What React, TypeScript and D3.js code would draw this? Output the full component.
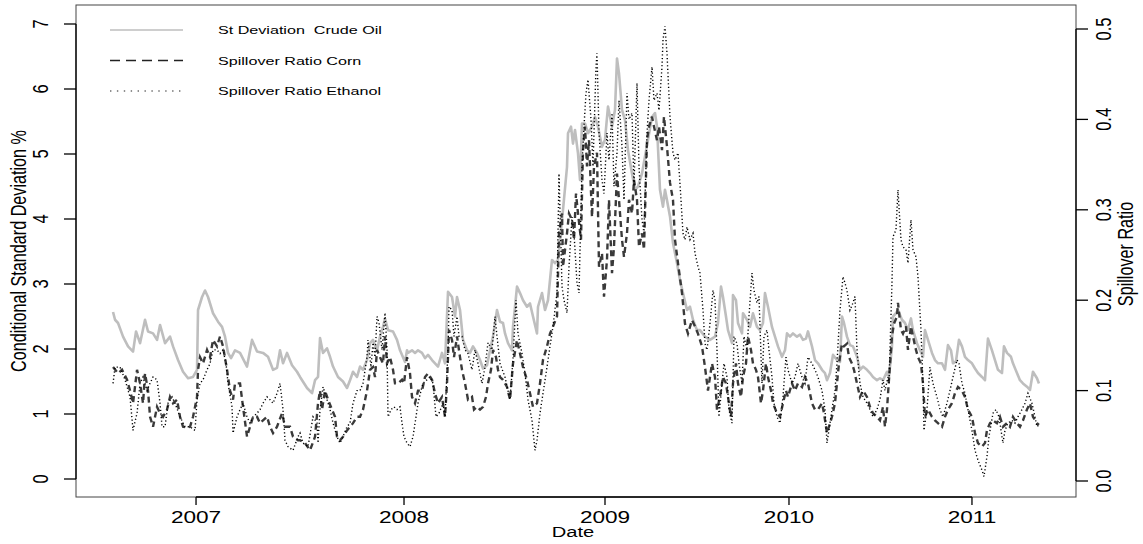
import React from "react";
import * as d3 from "d3";

// x is the observation index of the daily series (0 = first observation)
const N_OBS = 926;

const crudeOil: [number, number][] = [
  [0,2.57],[2,2.45],[5,2.40],[10,2.19],[15,2.04],[20,1.96],[23,2.27],[27,2.09],[32,2.45],[35,2.27],[40,2.24],[44,2.14],[47,2.37],[52,2.09],[57,2.19],[60,2.04],[65,1.83],[70,1.65],[75,1.55],[80,1.57],[84,1.68],[85,2.60],[89,2.80],[92,2.90],[95,2.80],[100,2.55],[105,2.42],[109,2.34],[112,2.19],[115,1.94],[118,1.86],[122,1.98],[127,1.94],[134,1.73],[139,2.14],[144,1.96],[150,1.94],[155,1.88],[160,1.68],[164,1.71],[167,1.98],[170,1.78],[174,1.94],[179,1.75],[184,1.65],[187,1.57],[194,1.40],[199,1.32],[202,1.52],[205,1.57],[207,2.17],[210,1.94],[214,2.01],[217,1.88],[220,1.73],[225,1.57],[230,1.50],[234,1.40],[237,1.52],[240,1.65],[244,1.57],[247,1.73],[250,1.68],[254,1.83],[257,2.09],[260,2.14],[264,1.98],[267,2.19],[270,2.34],[272,2.47],[275,2.29],[280,2.27],[284,2.14],[287,1.98],[292,1.80],[294,1.98],[295,1.94],[299,1.98],[302,1.94],[305,1.98],[309,1.94],[312,1.86],[315,1.91],[319,1.83],[322,1.78],[325,1.73],[329,1.94],[332,1.78],[335,2.88],[339,2.80],[342,2.50],[344,2.80],[347,2.60],[350,2.14],[354,1.98],[357,1.94],[360,2.04],[364,1.94],[367,1.83],[370,1.70],[374,1.75],[377,1.98],[380,2.19],[384,2.60],[387,2.42],[390,2.40],[392,2.24],[395,2.09],[399,1.98],[400,2.34],[404,2.96],[407,2.86],[410,2.75],[414,2.65],[417,2.70],[420,2.50],[424,2.24],[425,2.65],[429,2.86],[432,2.60],[435,2.75],[439,3.37],[442,3.32],[445,3.37],[447,3.68],[450,4.14],[454,4.80],[455,5.32],[458,5.42],[460,5.16],[462,5.37],[465,5.01],[467,4.60],[469,5.47],[472,5.47],[475,5.32],[479,5.42],[482,5.57],[485,5.42],[489,5.11],[492,5.22],[495,5.73],[499,5.42],[502,5.68],[504,6.47],[506,6.24],[509,5.68],[512,5.52],[515,5.06],[519,4.70],[522,4.45],[525,4.50],[529,4.70],[532,4.96],[535,5.22],[539,5.57],[542,5.63],[544,5.42],[547,4.45],[550,4.19],[552,4.45],[554,4.29],[557,4.04],[560,3.63],[564,3.32],[567,3.06],[570,2.86],[574,2.60],[577,2.65],[580,2.45],[584,2.29],[587,2.29],[592,2.19],[597,2.14],[602,2.19],[605,2.40],[608,2.96],[610,2.80],[613,2.50],[615,2.29],[619,2.09],[620,2.83],[623,2.75],[625,2.40],[629,2.24],[630,2.55],[634,2.45],[637,2.34],[640,2.55],[644,2.34],[647,2.29],[650,2.40],[652,2.86],[655,2.65],[659,2.34],[662,2.19],[665,2.04],[669,1.88],[672,1.98],[674,2.24],[677,2.19],[680,2.24],[684,2.19],[687,2.22],[690,2.14],[693,2.16],[695,2.27],[699,2.04],[702,1.83],[705,1.78],[709,1.68],[712,1.63],[714,1.52],[717,1.63],[720,1.91],[724,1.83],[727,1.80],[729,2.50],[731,2.40],[734,2.19],[737,2.06],[740,2.04],[744,1.88],[747,1.68],[750,1.73],[754,1.68],[757,1.63],[760,1.57],[764,1.52],[767,1.55],[770,1.52],[774,1.65],[776,1.57],[779,2.04],[780,2.50],[783,2.55],[785,2.60],[789,2.45],[792,2.40],[795,2.29],[798,2.47],[800,2.29],[804,2.09],[807,1.98],[810,1.88],[812,2.29],[815,2.14],[819,1.94],[822,1.83],[825,1.78],[829,1.78],[832,1.68],[835,2.06],[838,1.98],[840,1.78],[843,1.81],[846,2.14],[849,2.04],[852,1.88],[855,1.83],[859,1.78],[862,1.70],[865,1.63],[869,1.57],[872,1.52],[875,2.16],[879,1.98],[882,1.83],[885,1.68],[889,1.63],[891,2.04],[894,1.94],[898,1.88],[900,1.78],[904,1.63],[907,1.52],[910,1.47],[914,1.42],[917,1.37],[920,1.65],[924,1.55],[926,1.47]
];

const spillCorn: [number, number][] = [
  [0,0.126],[5,0.119],[9,0.123],[14,0.112],[17,0.100],[20,0.086],[24,0.123],[27,0.108],[30,0.086],[32,0.119],[35,0.100],[37,0.071],[40,0.060],[44,0.082],[47,0.075],[50,0.071],[54,0.079],[57,0.093],[60,0.086],[64,0.090],[67,0.071],[70,0.060],[74,0.059],[77,0.060],[80,0.071],[84,0.093],[85,0.123],[87,0.137],[90,0.130],[94,0.145],[97,0.137],[100,0.156],[104,0.149],[107,0.160],[110,0.149],[114,0.123],[117,0.100],[120,0.090],[122,0.108],[127,0.108],[130,0.082],[134,0.049],[137,0.060],[140,0.071],[144,0.071],[147,0.064],[154,0.071],[157,0.060],[160,0.053],[164,0.060],[169,0.075],[172,0.060],[177,0.060],[180,0.049],[185,0.045],[187,0.045],[192,0.042],[197,0.034],[202,0.049],[205,0.086],[207,0.100],[209,0.079],[212,0.100],[215,0.090],[219,0.079],[222,0.071],[224,0.049],[227,0.045],[230,0.049],[234,0.056],[237,0.060],[240,0.064],[244,0.071],[247,0.071],[250,0.079],[254,0.100],[257,0.123],[260,0.126],[262,0.115],[264,0.145],[267,0.137],[270,0.130],[272,0.160],[274,0.130],[277,0.137],[280,0.123],[282,0.108],[285,0.108],[289,0.112],[291,0.108],[294,0.137],[297,0.119],[299,0.093],[302,0.086],[305,0.100],[309,0.100],[312,0.115],[315,0.119],[319,0.112],[322,0.097],[325,0.086],[329,0.093],[332,0.071],[334,0.108],[336,0.167],[339,0.156],[341,0.137],[344,0.160],[347,0.137],[349,0.123],[352,0.108],[355,0.090],[359,0.093],[361,0.079],[364,0.082],[367,0.079],[370,0.082],[373,0.093],[375,0.108],[378,0.123],[380,0.145],[383,0.137],[385,0.123],[387,0.115],[390,0.112],[394,0.104],[397,0.090],[400,0.130],[404,0.156],[407,0.141],[410,0.126],[414,0.112],[417,0.097],[420,0.082],[424,0.086],[427,0.108],[430,0.134],[434,0.149],[437,0.163],[440,0.171],[444,0.182],[446,0.274],[449,0.296],[450,0.237],[454,0.274],[456,0.296],[459,0.289],[461,0.267],[463,0.318],[465,0.296],[468,0.267],[470,0.366],[472,0.392],[474,0.348],[476,0.377],[479,0.292],[481,0.348],[484,0.363],[486,0.237],[489,0.252],[491,0.204],[494,0.245],[496,0.311],[499,0.230],[501,0.259],[504,0.340],[506,0.311],[509,0.267],[511,0.248],[514,0.274],[516,0.311],[519,0.296],[521,0.333],[524,0.311],[526,0.259],[529,0.274],[531,0.256],[534,0.377],[536,0.392],[539,0.403],[541,0.392],[544,0.377],[546,0.392],[549,0.366],[551,0.403],[554,0.370],[557,0.330],[560,0.311],[562,0.267],[565,0.241],[569,0.208],[572,0.174],[575,0.163],[579,0.178],[582,0.171],[585,0.163],[589,0.149],[592,0.126],[595,0.100],[599,0.130],[602,0.115],[604,0.079],[607,0.093],[610,0.115],[613,0.108],[615,0.093],[618,0.071],[620,0.108],[623,0.130],[625,0.108],[628,0.093],[630,0.115],[633,0.130],[635,0.160],[638,0.145],[640,0.130],[643,0.123],[645,0.115],[648,0.086],[650,0.100],[653,0.130],[655,0.115],[658,0.100],[660,0.086],[664,0.075],[667,0.071],[670,0.086],[673,0.100],[675,0.093],[679,0.108],[682,0.100],[685,0.108],[689,0.104],[692,0.115],[695,0.108],[699,0.086],[702,0.079],[705,0.079],[709,0.086],[711,0.075],[714,0.053],[716,0.060],[719,0.071],[722,0.086],[724,0.108],[726,0.130],[729,0.152],[731,0.149],[734,0.152],[736,0.137],[739,0.130],[741,0.123],[744,0.108],[747,0.093],[750,0.100],[754,0.093],[757,0.082],[760,0.075],[764,0.071],[767,0.067],[770,0.082],[772,0.060],[774,0.079],[776,0.112],[779,0.160],[781,0.174],[784,0.182],[785,0.197],[788,0.167],[790,0.163],[793,0.171],[795,0.145],[798,0.171],[800,0.160],[803,0.145],[805,0.137],[808,0.130],[810,0.108],[812,0.071],[815,0.079],[819,0.071],[822,0.067],[825,0.064],[829,0.060],[832,0.071],[835,0.079],[839,0.086],[842,0.097],[845,0.104],[849,0.100],[852,0.093],[855,0.079],[859,0.071],[862,0.053],[865,0.042],[869,0.038],[872,0.042],[874,0.056],[877,0.064],[880,0.067],[884,0.064],[887,0.071],[890,0.060],[894,0.064],[897,0.060],[900,0.071],[904,0.064],[907,0.060],[910,0.067],[914,0.079],[917,0.086],[920,0.071],[924,0.064],[926,0.062]
];

const spillEthanol: [number, number][] = [
  [0,0.108],[2,0.126],[7,0.126],[12,0.112],[17,0.093],[20,0.056],[24,0.075],[27,0.108],[30,0.115],[34,0.100],[37,0.108],[40,0.115],[44,0.112],[47,0.086],[49,0.060],[52,0.060],[55,0.086],[59,0.093],[62,0.086],[67,0.071],[72,0.060],[77,0.060],[82,0.056],[84,0.090],[87,0.108],[90,0.112],[94,0.123],[97,0.130],[100,0.145],[104,0.145],[107,0.141],[110,0.145],[113,0.130],[115,0.108],[119,0.082],[120,0.053],[124,0.071],[127,0.079],[130,0.086],[134,0.071],[137,0.064],[140,0.071],[144,0.075],[147,0.079],[150,0.086],[154,0.093],[157,0.090],[160,0.086],[164,0.097],[167,0.108],[170,0.079],[172,0.045],[175,0.038],[180,0.034],[185,0.049],[187,0.053],[190,0.042],[195,0.038],[200,0.071],[204,0.064],[205,0.042],[207,0.079],[210,0.104],[214,0.090],[217,0.079],[220,0.064],[224,0.049],[227,0.042],[230,0.049],[234,0.060],[237,0.064],[240,0.086],[244,0.100],[247,0.100],[250,0.108],[254,0.137],[255,0.156],[258,0.126],[260,0.153],[262,0.137],[264,0.182],[266,0.175],[269,0.145],[272,0.186],[274,0.145],[275,0.071],[278,0.079],[281,0.082],[284,0.079],[287,0.082],[289,0.064],[291,0.049],[294,0.042],[297,0.038],[300,0.049],[303,0.071],[305,0.086],[308,0.100],[310,0.108],[314,0.112],[317,0.115],[320,0.108],[323,0.071],[326,0.075],[330,0.086],[332,0.071],[335,0.145],[336,0.193],[339,0.189],[341,0.160],[344,0.182],[346,0.160],[349,0.160],[352,0.145],[355,0.141],[359,0.123],[362,0.145],[365,0.130],[369,0.108],[372,0.126],[375,0.153],[379,0.145],[382,0.182],[384,0.160],[387,0.130],[392,0.115],[397,0.090],[400,0.134],[403,0.200],[405,0.163],[409,0.141],[412,0.119],[415,0.090],[419,0.067],[422,0.034],[424,0.045],[427,0.075],[430,0.097],[434,0.126],[437,0.149],[440,0.171],[444,0.208],[446,0.340],[449,0.215],[451,0.200],[454,0.186],[456,0.237],[459,0.292],[461,0.274],[464,0.219],[466,0.208],[469,0.348],[471,0.392],[473,0.429],[475,0.444],[478,0.400],[480,0.348],[483,0.458],[484,0.473],[486,0.385],[489,0.333],[491,0.318],[494,0.385],[496,0.355],[499,0.407],[501,0.326],[504,0.363],[506,0.421],[509,0.370],[511,0.311],[514,0.429],[516,0.400],[519,0.407],[521,0.326],[524,0.440],[526,0.348],[529,0.289],[531,0.274],[534,0.385],[536,0.421],[539,0.458],[541,0.421],[544,0.429],[546,0.410],[549,0.458],[550,0.488],[552,0.503],[554,0.473],[557,0.403],[560,0.363],[562,0.355],[565,0.363],[568,0.311],[570,0.274],[572,0.267],[574,0.281],[577,0.267],[580,0.274],[582,0.252],[585,0.237],[587,0.230],[590,0.189],[592,0.152],[594,0.145],[597,0.174],[600,0.211],[602,0.200],[604,0.145],[606,0.071],[609,0.108],[611,0.130],[614,0.115],[616,0.079],[619,0.064],[621,0.160],[624,0.152],[626,0.130],[629,0.108],[631,0.160],[634,0.145],[636,0.182],[639,0.230],[641,0.211],[644,0.197],[646,0.204],[649,0.108],[651,0.160],[654,0.167],[656,0.145],[659,0.115],[661,0.086],[664,0.071],[667,0.064],[670,0.093],[673,0.137],[675,0.123],[679,0.108],[682,0.115],[685,0.130],[689,0.115],[692,0.108],[695,0.137],[699,0.130],[702,0.123],[705,0.115],[709,0.100],[712,0.079],[714,0.042],[717,0.064],[720,0.086],[722,0.100],[724,0.130],[727,0.189],[730,0.226],[732,0.219],[734,0.211],[737,0.189],[740,0.197],[742,0.204],[744,0.145],[747,0.108],[750,0.093],[754,0.086],[757,0.079],[760,0.071],[764,0.079],[767,0.090],[770,0.112],[772,0.100],[775,0.115],[776,0.108],[779,0.219],[780,0.270],[783,0.278],[785,0.322],[788,0.267],[790,0.259],[793,0.256],[795,0.241],[798,0.289],[800,0.256],[803,0.248],[805,0.226],[808,0.167],[810,0.108],[811,0.056],[814,0.079],[817,0.126],[820,0.108],[824,0.093],[827,0.079],[830,0.071],[834,0.086],[837,0.100],[840,0.115],[844,0.134],[846,0.130],[849,0.108],[852,0.097],[855,0.079],[859,0.056],[862,0.034],[865,0.023],[869,0.012],[871,0.005],[874,0.027],[876,0.049],[880,0.075],[883,0.079],[886,0.071],[890,0.042],[892,0.056],[895,0.064],[899,0.067],[902,0.064],[905,0.071],[909,0.079],[912,0.086],[915,0.097],[919,0.086],[922,0.071],[924,0.060],[926,0.062]
];

const yearLabels = ["2007", "2008", "2009", "2010", "2011"];
const yearTickObs = [83, 291, 492, 676, 859];
const leftTicks = [0, 1, 2, 3, 4, 5, 6, 7];
const rightTicks = [0, 0.1, 0.2, 0.3, 0.4, 0.5];
const legendLabels = ["St Deviation  Crude Oil", "Spillover Ratio Corn", "Spillover Ratio Ethanol"];

const FONT = "'Liberation Sans', Arial, Helvetica, sans-serif";
const SX = 1.37;

export default function App() {
  const W = 1143, H = 544;
  const box = { l: 76, r: 1076, t: 5, b: 497 };
  const pad = 0.04 * N_OBS;
  const x = d3.scaleLinear().domain([-pad, N_OBS + pad]).range([box.l, box.r]);
  const yL = d3.scaleLinear().domain([0, 7]).range([479, 24]);
  const yR = d3.scaleLinear().domain([0, 0.5]).range([481, 29]);
  const lineL = d3.line<[number, number]>().x(d => x(d[0])).y(d => yL(d[1]));
  const lineR = d3.line<[number, number]>().x(d => x(d[0])).y(d => yR(d[1]));

  const legendDash = [undefined, "10,6", "1.4,5.5"];
  const legendW = [1.6, 1.4, 1.2];

  const hText = (tx: number, ty: number, s: string, size: number, anchor: string, sx = SX) => (
    <text transform={`translate(${tx},${ty}) scale(${sx},1)`} textAnchor={anchor}
      fontSize={size} fontFamily={FONT} fill="#000" style={{ whiteSpace: "pre" }}>{s}</text>
  );
  const vText = (tx: number, ty: number, s: string, size: number) => (
    <text transform={`translate(${tx},${ty}) rotate(-90) scale(1,${SX})`} textAnchor="middle"
      fontSize={size} fontFamily={FONT} fill="#000">{s}</text>
  );

  return (
    <svg width={W} height={H} style={{ position: "absolute", left: 0, top: 0, background: "#fff" }}>
      <rect x={0} y={0} width={W} height={H} fill="#fff" />
      <rect x={box.l} y={box.t} width={box.r - box.l} height={box.b - box.t} fill="none" stroke="#444" strokeWidth={1} />

      <path d={lineL(crudeOil) || ""} fill="none" stroke="#bebebe" strokeWidth={2.6} strokeLinejoin="round" />
      <path d={lineR(spillCorn) || ""} fill="none" stroke="#3a3a3a" strokeWidth={2.4} strokeDasharray="6,4" />
      <path d={lineR(spillEthanol) || ""} fill="none" stroke="#000" strokeWidth={1.4} strokeDasharray="1.2,2.4" />

      {/* left axis */}
      <line x1={box.l} x2={box.l} y1={yL(0)} y2={yL(7)} stroke="#000" strokeWidth={1.3} />
      {leftTicks.map(t => (
        <g key={"l" + t}>
          <line x1={box.l - 12} x2={box.l} y1={yL(t)} y2={yL(t)} stroke="#000" strokeWidth={1.3} />
          {vText(48, yL(t), String(t), 16.5)}
        </g>
      ))}
      {vText(26, 251, "Conditional Standard Deviation %", 16.2)}

      {/* right axis */}
      <line x1={box.r} x2={box.r} y1={yR(0)} y2={yR(0.5)} stroke="#000" strokeWidth={1.3} />
      {rightTicks.map(t => (
        <g key={"r" + t}>
          <line x1={box.r} x2={box.r + 12} y1={yR(t)} y2={yR(t)} stroke="#000" strokeWidth={1.3} />
          {vText(1111, yR(t), t.toFixed(1), 16.5)}
        </g>
      ))}
      {vText(1133, 254, "Spillover Ratio", 16.2)}

      {/* bottom axis */}
      <line x1={x(yearTickObs[0])} x2={x(yearTickObs[yearTickObs.length - 1])} y1={box.b} y2={box.b} stroke="#000" strokeWidth={1.3} />
      {yearTickObs.map((o, i) => (
        <g key={"x" + i}>
          <line x1={x(o)} x2={x(o)} y1={box.b} y2={box.b + 8} stroke="#000" strokeWidth={1.3} />
          {hText(x(o), 523, yearLabels[i], 16.5, "middle")}
        </g>
      ))}
      {hText(573, 537, "Date", 15.5, "middle", 1.3)}

      {/* legend */}
      {legendLabels.map((lab, i) => {
        const ly = 30 + i * 30.5;
        return (
          <g key={"lg" + i}>
            <line x1={110} x2={183} y1={ly} y2={ly} stroke={i === 0 ? "#bebebe" : "#222"}
              strokeWidth={legendW[i]} strokeDasharray={legendDash[i]} />
            {hText(218, ly + 4.2, lab, 11.6, "start", 1.39)}
          </g>
        );
      })}
    </svg>
  );
}
